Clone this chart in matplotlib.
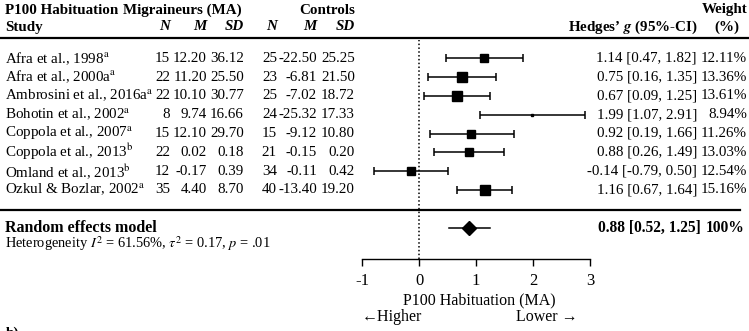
import numpy as np
import matplotlib
matplotlib.use('Agg')
import matplotlib.pyplot as plt
from matplotlib.lines import Line2D

plt.rcParams['font.family'] = ['Liberation Serif', 'DejaVu Serif']
plt.rcParams['mathtext.fontset'] = 'stix'
plt.rcParams['axes.unicode_minus'] = False

# data
studies = ['Afra et al., 1998$^{\\mathrm{a}}$', 'Afra et al., 2000a$^{\\mathrm{a}}$',
           'Ambrosini et al., 2016a$^{\\mathrm{a}}$', 'Bohotin et al., 2002$^{\\mathrm{a}}$',
           'Coppola et al., 2007$^{\\mathrm{a}}$', 'Coppola et al., 2013$^{\\mathrm{b}}$',
           'Omland et al., 2013$^{\\mathrm{b}}$', 'Ozkul & Bozlar, 2002$^{\\mathrm{a}}$']
ma_n = ['15', '22', '22', '8', '15', '22', '12', '35']
ma_m = ['12.20', '11.20', '10.10', '9.74', '12.10', '0.02', '-0.17', '4.40']
ma_sd = ['36.12', '25.50', '30.77', '16.66', '29.70', '0.18', '0.39', '8.70']
c_n = ['25', '23', '25', '24', '15', '21', '34', '40']
c_m = ['-22.50', '-6.81', '-7.02', '-25.32', '-9.12', '-0.15', '-0.11', '-13.40']
c_sd = ['25.25', '21.50', '18.72', '17.33', '10.80', '0.20', '0.42', '19.20']
g = np.array([1.14, 0.75, 0.67, 1.99, 0.92, 0.88, -0.14, 1.16])
lo = np.array([0.47, 0.16, 0.09, 1.07, 0.19, 0.26, -0.79, 0.67])
hi = np.array([1.82, 1.35, 1.25, 2.91, 1.66, 1.49, 0.50, 1.64])
weight = np.array([12.11, 13.36, 13.61, 8.94, 11.26, 13.03, 12.54, 15.16])
pooled_g, pooled_lo, pooled_hi = 0.88, 0.52, 1.25

W, H = 749, 331
fig = plt.figure(figsize=(W / 100, H / 100), dpi=100)
fs = 10.8


def ftext(x, y, s, **kw):
    # place text in pixel coords of the figure
    kw.setdefault('va', 'center')
    kw.setdefault('fontsize', fs)
    fig.text(x / W, 1 - y / H, s, **kw)


def hline(y, x0, x1, lw=1.6):
    fig.add_artist(Line2D([x0 / W, x1 / W], [1 - y / H, 1 - y / H], color='black', lw=lw))


row_y = 58.3 + 18.8 * np.arange(len(studies))
pooled_y = 228

# header
ftext(5, 10, 'P100 Habituation', fontweight='bold')
ftext(5, 27, 'Study', fontweight='bold')
ftext(242, 10, 'Migraineurs (MA)', fontweight='bold', ha='right')
ftext(355, 10, 'Controls', fontweight='bold', ha='right')
cols = [170, 207, 244, 277, 317, 355]
for x, h in zip(cols, ['N', 'M', 'SD', 'N', 'M', 'SD']):
    ftext(x, 27, h, fontweight='bold', fontstyle='italic', ha='right')
ftext(698, 27, 'Hedges\u2019 $\\mathbfit{g}$ (95%-CI)', fontweight='bold', ha='right')
ftext(725, 10, 'Weight', fontweight='bold', ha='center')
ftext(727, 27, '(%)', fontweight='bold', ha='center')
hline(38, 0, W)

# rows
for i, y in enumerate(row_y):
    ftext(5, y, studies[i])
    for x, col in zip(cols, [ma_n, ma_m, ma_sd, c_n, c_m, c_sd]):
        ftext(x, y, col[i], ha='right')
    ftext(697, y, f'{g[i]:.2f} [{lo[i]:.2f}, {hi[i]:.2f}]', ha='right')
    ftext(747, y, f'{weight[i]:.2f}%', ha='right')

hline(210, 0, 740)
ftext(5, pooled_y, 'Random effects model', fontweight='bold', fontsize=11.5)
ftext(701, pooled_y, f'{pooled_g:.2f} [{pooled_lo:.2f}, {pooled_hi:.2f}]', fontweight='bold',
      ha='right', fontsize=11.2)
ftext(745, pooled_y, '100%', fontweight='bold', ha='right', fontsize=11.2)
ftext(5, 244, 'Heterogeneity $I^2$ = 61.56%, $\\tau^2$ = 0.17, $p$ = .01', fontsize=10.4)

# forest axes
ax = fig.add_axes([362 / W, 1 - 259 / H, 228 / W, (259 - 40) / H])
ax.set_xlim(-1, 3)
ax.set_ylim(259, 40)
ax.patch.set_alpha(0)
for s in ['top', 'right', 'left']:
    ax.spines[s].set_visible(False)
ax.spines['bottom'].set_linewidth(1.0)
ax.set_yticks([])
ax.set_xticks([-1, 0, 1, 2, 3])
ax.tick_params(axis='x', length=5, width=1.0, pad=5, labelsize=12)

ax.axvline(0, color='black', lw=1.1, linestyle=(0, (1, 1.5)))

ax.errorbar(g, row_y, xerr=[g - lo, hi - g], fmt='none', ecolor='black',
            elinewidth=1.1, capsize=2.9, capthick=1.1)
rel = (weight - weight.min()) / (weight.max() - weight.min())
box_px = 2 + 8 * rel ** 0.35
for i in range(len(g)):
    ax.plot(g[i], row_y[i], marker='s', color='black', markersize=box_px[i] * 0.72, linestyle='none')

ax.plot([pooled_lo, pooled_hi], [pooled_y, pooled_y], color='black', lw=1.1)
ax.plot(pooled_g, pooled_y, marker='D', color='black', markersize=7.5)

# axis labels
ftext(479, 300, 'P100 Habituation (MA)', ha='center', fontsize=11.5)
ftext(362, 317, '\u2190Higher', ha='left', fontsize=11.5)
ftext(578, 317, 'Lower \u2192', ha='right', fontsize=11.5)
ftext(6, 327, 'b)', fontweight='bold', va='top')

fig.savefig('out.png', dpi=100)
